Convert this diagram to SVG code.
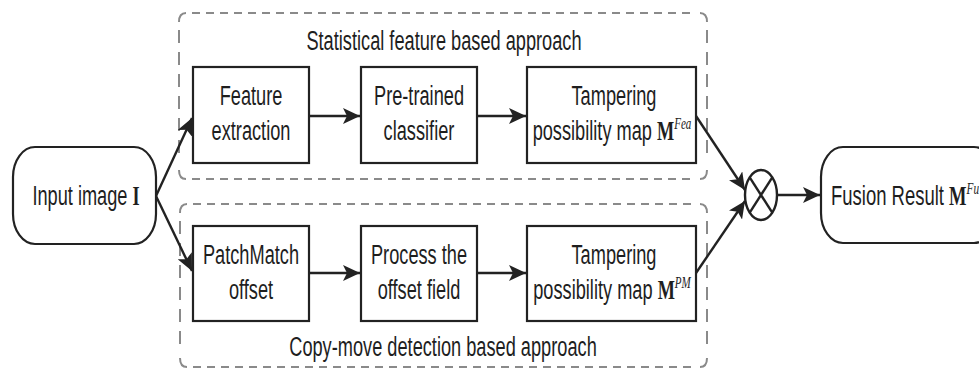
<svg xmlns="http://www.w3.org/2000/svg" width="979" height="374" viewBox="0 0 979 374">
<style>
.bg{fill:#ffffff}
.box{fill:#ffffff;stroke:#222;stroke-width:2.2}
.gh{fill:none;stroke:#8a8a8a;stroke-width:2;stroke-dasharray:8 6}
.gv{fill:none;stroke:#8a8a8a;stroke-width:2;stroke-dasharray:13 9}
.gc{fill:none;stroke:#8a8a8a;stroke-width:2}
.t{font-family:"Liberation Sans",Arial,sans-serif;font-size:28px;fill:#1e1e1e;text-anchor:middle}
.tl{font-family:"Liberation Sans",Arial,sans-serif;font-size:28px;fill:#1e1e1e;text-anchor:start}
.m{font-family:"Liberation Serif","Times New Roman",serif;font-weight:bold}
.s{font-family:"Liberation Serif","Times New Roman",serif;font-style:italic;font-size:17px}
.c{fill:none;stroke:#222;stroke-width:2.4}
</style>
<defs>
<marker id="ah" markerUnits="userSpaceOnUse" markerWidth="18" markerHeight="16" refX="17" refY="8" orient="auto">
<path d="M0,0 L17,8 L0,16 L4,8 Z" fill="#222"/>
</marker>
</defs>
<rect class="bg" x="0" y="0" width="979" height="374"/>

<g id="group-statistical">
<line class="gh" x1="192" y1="13" x2="694" y2="13"/>
<line class="gh" x1="192" y1="179" x2="694" y2="179"/>
<line class="gv" x1="179" y1="30" x2="179" y2="162"/>
<line class="gv" x1="707" y1="30" x2="707" y2="162"/>
<path class="gc" d="M179,22 Q179,13 186,13"/>
<path class="gc" d="M700,13 Q707,13 707,22"/>
<path class="gc" d="M179,170 Q179,179 186,179"/>
<path class="gc" d="M700,179 Q707,179 707,170"/>
<text class="t" transform="translate(444,50) scale(0.65,1)">Statistical feature based approach</text>
</g>
<g id="group-copymove">
<line class="gh" x1="193" y1="204" x2="694" y2="204"/>
<line class="gh" x1="193" y1="367" x2="694" y2="367"/>
<line class="gv" x1="180" y1="221" x2="180" y2="350"/>
<line class="gv" x1="707" y1="221" x2="707" y2="350"/>
<path class="gc" d="M180,213 Q180,204 187,204"/>
<path class="gc" d="M700,204 Q707,204 707,213"/>
<path class="gc" d="M180,358 Q180,367 187,367"/>
<path class="gc" d="M700,367 Q707,367 707,358"/>
<text class="t" transform="translate(443,356) scale(0.65,1)">Copy-move detection based approach</text>
</g>

<g id="input">
<rect class="box" x="13" y="147" width="143" height="97" rx="22" ry="30"/>
<text class="t" transform="translate(86,205) scale(0.65,1)">Input image <tspan class="m">I</tspan></text>
</g>

<g id="feature">
<rect class="box" x="193" y="67" width="116" height="96"/>
<text class="t" transform="translate(251,105) scale(0.65,1)">Feature</text>
<text class="t" transform="translate(251,140) scale(0.65,1)">extraction</text>
</g>
<g id="classifier">
<rect class="box" x="361" y="67" width="116" height="96"/>
<text class="t" transform="translate(419,105) scale(0.65,1)">Pre-trained</text>
<text class="t" transform="translate(419,140) scale(0.65,1)">classifier</text>
</g>
<g id="map-fea">
<rect class="box" x="527" y="67" width="169" height="96"/>
<text class="t" transform="translate(614,105) scale(0.65,1)">Tampering</text>
<text class="t" transform="translate(612,140) scale(0.65,1)">possibility map <tspan class="m">M</tspan><tspan class="s" dy="-11">Fea</tspan></text>
</g>

<g id="patchmatch">
<rect class="box" x="193" y="226" width="116" height="95"/>
<text class="t" transform="translate(251,264) scale(0.65,1)">PatchMatch</text>
<text class="t" transform="translate(251,299) scale(0.65,1)">offset</text>
</g>
<g id="process">
<rect class="box" x="361" y="226" width="116" height="95"/>
<text class="t" transform="translate(419,264) scale(0.65,1)">Process the</text>
<text class="t" transform="translate(419,299) scale(0.65,1)">offset field</text>
</g>
<g id="map-pm">
<rect class="box" x="527" y="226" width="169" height="95"/>
<text class="t" transform="translate(614,264) scale(0.65,1)">Tampering</text>
<text class="t" transform="translate(612,299) scale(0.65,1)">possibility map <tspan class="m">M</tspan><tspan class="s" dy="-11">PM</tspan></text>
</g>

<g id="fusion-op">
<ellipse class="c" cx="761" cy="195" rx="16" ry="25"/>
<line class="c" x1="749.7" y1="177.3" x2="772.3" y2="212.7"/>
<line class="c" x1="772.3" y1="177.3" x2="749.7" y2="212.7"/>
</g>

<g id="fusion-result">
<rect class="box" x="821" y="147" width="175" height="96" rx="22" ry="30"/>
<text class="tl" transform="translate(831,205) scale(0.66,1)">Fusion Result <tspan class="m">M</tspan><tspan class="s" dy="-11">Fu</tspan></text>
</g>

<g id="connectors" fill="none" stroke="#222" stroke-width="2.4">
<line x1="156" y1="196" x2="192" y2="118" marker-end="url(#ah)"/>
<line x1="156" y1="196" x2="192" y2="271" marker-end="url(#ah)"/>
<line x1="309" y1="116" x2="360" y2="116" marker-end="url(#ah)"/>
<line x1="477" y1="116" x2="526" y2="116" marker-end="url(#ah)"/>
<line x1="309" y1="273" x2="360" y2="273" marker-end="url(#ah)"/>
<line x1="477" y1="273" x2="526" y2="273" marker-end="url(#ah)"/>
<line x1="696" y1="116" x2="745" y2="190" marker-end="url(#ah)"/>
<line x1="696" y1="273" x2="745" y2="201" marker-end="url(#ah)"/>
<line x1="777" y1="195" x2="820" y2="195" marker-end="url(#ah)"/>
</g>
</svg>
